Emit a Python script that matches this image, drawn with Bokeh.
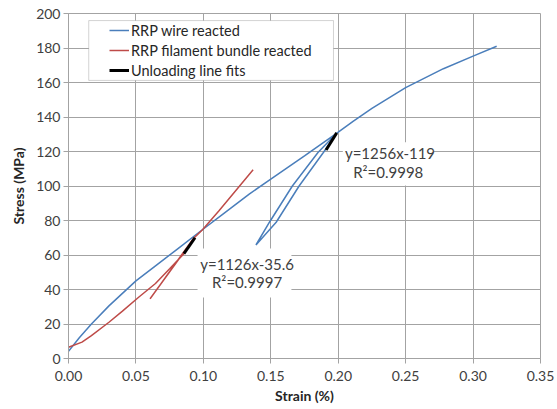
from bokeh.plotting import figure
from bokeh.models import Range1d, Legend, LegendItem, Label, BoxAnnotation, FixedTicker
from bokeh.embed import file_html
from bokeh.resources import INLINE

# ---- data ----
wire_strain = [0.000, 0.008, 0.017, 0.030, 0.050, 0.065, 0.080, 0.099, 0.115, 0.134, 0.150, 0.175, 0.199,
               0.189, 0.171, 0.154, 0.139,
               0.149, 0.166, 0.185, 0.199,
               0.211, 0.225, 0.250, 0.278, 0.300, 0.3175]
wire_stress = [4.2, 12.0, 20.0, 30.5, 45.0, 54.0, 63.0, 74.5, 84.0, 95.3, 104.0, 117.5, 130.7,
               119.4, 100.0, 79.0, 65.8,
               79.0, 100.0, 119.4, 130.7,
               137.5, 145.0, 157.0, 168.0, 175.3, 181.0]

bundle_strain = [0.000, 0.010, 0.017, 0.030, 0.040, 0.052, 0.0645, 0.075, 0.0856, 0.0938,
                 0.0605,
                 0.0925, 0.0992, 0.1116, 0.1369]
bundle_stress = [6.5, 9.5, 13.3, 21.0, 27.5, 35.5, 43.5, 52.0, 60.8, 70.5,
                 34.6,
                 69.5, 74.5, 85.7, 109.4]

fit_wire_strain = [0.191, 0.1989]
fit_wire_stress = [120.9, 130.8]
fit_bundle_strain = [0.0856, 0.0938]
fit_bundle_stress = [60.8, 70.0]

x_ticks = [0.00, 0.05, 0.10, 0.15, 0.20, 0.25, 0.30, 0.35]
x_tick_labels = ["0.00", "0.05", "0.10", "0.15", "0.20", "0.25", "0.30", "0.35"]
y_ticks = [0, 20, 40, 60, 80, 100, 120, 140, 160, 180, 200]

series_labels = ["RRP wire reacted", "RRP filament bundle reacted", "Unloading line fits"]
fit_wire_text = ["y=1256x-119", "R\u00b2=0.9998"]
fit_bundle_text = ["y=1126x-35.6", "R\u00b2=0.9997"]

# ---- styling ----
BLUE = "#4A7EBB"
RED = "#BE4B48"
GRID = "#a3a3a3"
TXT = "#404040"
FONT = "Lato"

p = figure(frame_width=472, frame_height=345,
           min_border_left=68, min_border_right=15, min_border_top=13, min_border_bottom=48,
           x_range=Range1d(0, 0.35), y_range=Range1d(0, 200),
           output_backend="svg", toolbar_location=None,
           background_fill_color="white", border_fill_color="white")

p.outline_line_color = GRID
p.xaxis.ticker = FixedTicker(ticks=x_ticks)
p.yaxis.ticker = FixedTicker(ticks=y_ticks)
p.xaxis.major_label_overrides = {t: l for t, l in zip(x_ticks, x_tick_labels)}
p.xgrid.ticker = FixedTicker(ticks=x_ticks)
p.ygrid.ticker = FixedTicker(ticks=y_ticks)
for g in (p.xgrid, p.ygrid):
    g.grid_line_color = GRID
    g.grid_line_width = 1

for ax in (p.xaxis, p.yaxis):
    ax.axis_line_color = GRID
    ax.major_tick_line_color = GRID
    ax.major_tick_out = 5
    ax.major_tick_in = 0
    ax.minor_tick_line_color = None
    ax.major_label_text_font = FONT
    ax.major_label_text_font_size = "14px"
    ax.major_label_text_color = TXT
    ax.axis_label_text_font = FONT
    ax.axis_label_text_font_size = "14px"
    ax.axis_label_text_font_style = "bold"
    ax.axis_label_text_color = "#262626"

p.xaxis.axis_label = "Strain (%)"
p.yaxis.axis_label = "Stress (MPa)"
p.xaxis.major_label_standoff = 7
p.xaxis.axis_label_standoff = 3
p.yaxis.major_label_standoff = 3
p.yaxis.axis_label_standoff = 6

# white backgrounds behind the fit labels
p.add_layout(BoxAnnotation(left=0.2034, right=0.2707, bottom=100.3, top=125.4,
                           fill_color="white", fill_alpha=1, line_alpha=0, level="underlay"))
p.add_layout(BoxAnnotation(left=0.0957, right=0.1653, bottom=35.4, top=63.8,
                           fill_color="white", fill_alpha=1, line_alpha=0, level="underlay"))

r_wire = p.line(wire_strain, wire_stress, line_color=BLUE, line_width=1.5)
r_bundle = p.line(bundle_strain, bundle_stress, line_color=RED, line_width=1.5)
r_fit1 = p.line(fit_wire_strain, fit_wire_stress, line_color="black", line_width=3)
r_fit2 = p.line(fit_bundle_strain, fit_bundle_stress, line_color="black", line_width=3)

for (xx, yy, t) in [(0.2384, 119.2, fit_wire_text[0]), (0.2371, 108.4, fit_wire_text[1]),
                    (0.1324, 54.5, fit_bundle_text[0]), (0.1324, 44.2, fit_bundle_text[1])]:
    p.add_layout(Label(x=xx, y=yy, text=t, text_align="center", text_baseline="middle",
                       text_font=FONT, text_font_size="15px", text_color=TXT))

# legend frame
p.add_layout(BoxAnnotation(left=0.015, right=0.1965, bottom=161.2, top=195.9,
                           fill_color="white", fill_alpha=1, line_color="#707070", line_width=1))

legend = Legend(items=[LegendItem(label=series_labels[0], renderers=[r_wire]),
                       LegendItem(label=series_labels[1], renderers=[r_bundle]),
                       LegendItem(label=series_labels[2], renderers=[r_fit1])],
                location=(41, 279), padding=0, margin=0, spacing=2,
                glyph_width=20, glyph_height=18, label_height=18, label_standoff=2,
                label_text_font=FONT, label_text_font_size="14.5px", label_text_color="#262626",
                border_line_alpha=0, background_fill_alpha=0)
p.add_layout(legend)

open("out.html", "w").write(file_html(p, INLINE))
